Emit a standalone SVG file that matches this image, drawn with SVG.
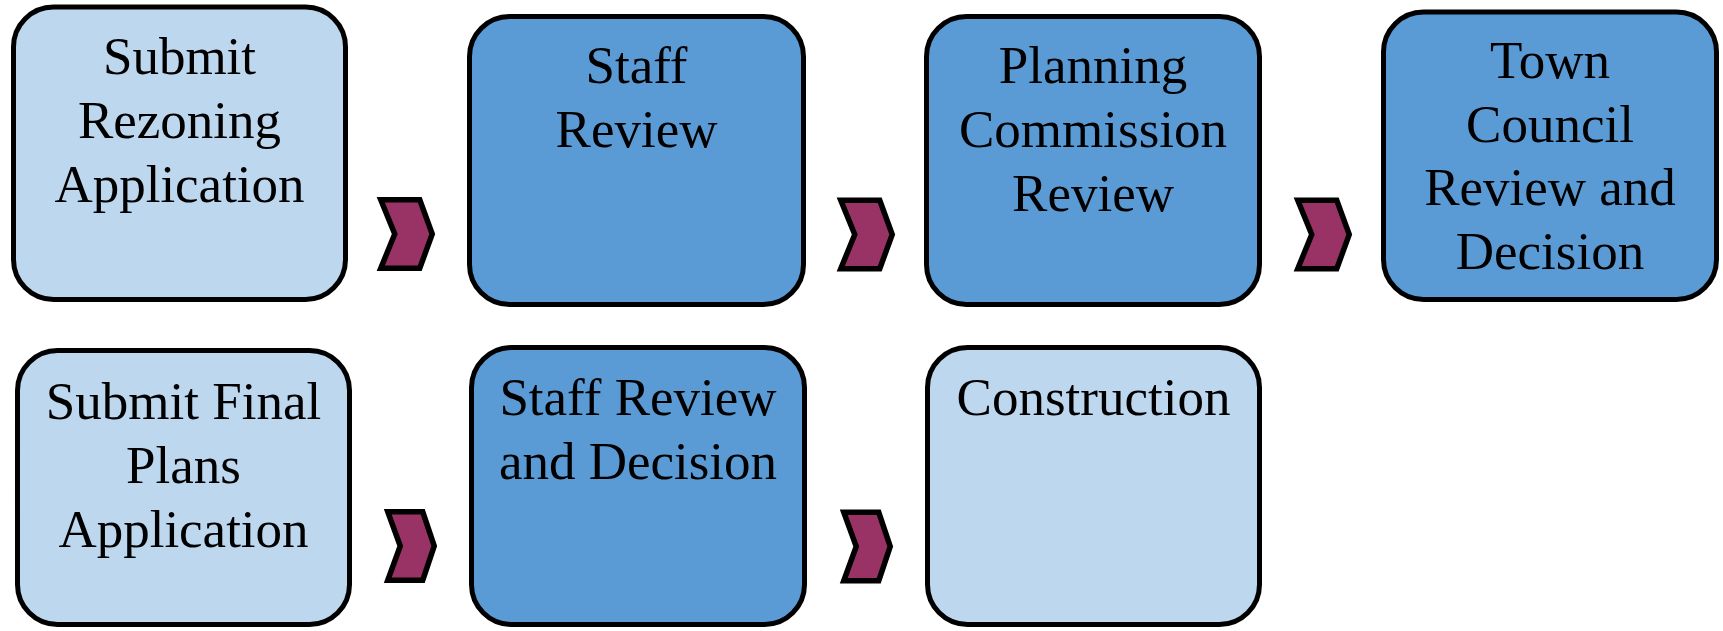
<svg xmlns="http://www.w3.org/2000/svg" width="1723" height="631" viewBox="0 0 1723 631">
  <style>
    .box { stroke: #000000; stroke-width: 5; }
    .light { fill: #BDD7EE; }
    .dark { fill: #5B9BD5; }
    .label { font-family: "Liberation Serif", "Times New Roman", serif; font-size: 53px; fill: #000000; text-anchor: middle; }
    .chev { fill: #993366; stroke: #000000; stroke-width: 5.5; stroke-linejoin: miter; }
  </style>
  <defs>
    <polygon id="chevron-top" points="0,0 39,0 51.5,34.25 39,68.5 0,68.5 14,34.25"/>
    <polygon id="chevron-bottom" points="0,0 35,0 46.5,34.25 35,68.5 0,68.5 12.5,34.25"/>
  </defs>
  <rect width="1723" height="631" fill="#FFFFFF"/>

  <!-- Rezoning track -->
  <g id="submit-rezoning">
    <rect class="box light" x="13.5" y="7" width="332" height="292.5" rx="40" ry="40"/>
    <text class="label" x="179.5" y="74">Submit</text>
    <text class="label" x="179.5" y="138">Rezoning</text>
    <text class="label" x="179.5" y="202">Application</text>
  </g>
  <g id="staff-review">
    <rect class="box dark" x="469.5" y="16.5" width="334" height="288" rx="40" ry="40"/>
    <text class="label" x="636.5" y="83">Staff</text>
    <text class="label" x="636.5" y="147">Review</text>
  </g>
  <g id="planning-commission-review">
    <rect class="box dark" x="926.5" y="16.5" width="333" height="288" rx="40" ry="40"/>
    <text class="label" x="1093" y="83">Planning</text>
    <text class="label" x="1093" y="147">Commission</text>
    <text class="label" x="1093" y="211">Review</text>
  </g>
  <g id="town-council-review">
    <rect class="box dark" x="1383.5" y="12" width="333" height="287.5" rx="40" ry="40"/>
    <text class="label" x="1550" y="78">Town</text>
    <text class="label" x="1550" y="142">Council</text>
    <text class="label" x="1550" y="205">Review and</text>
    <text class="label" x="1550" y="269">Decision</text>
  </g>

  <!-- Final plans track -->
  <g id="submit-final-plans">
    <rect class="box light" x="17.5" y="350.5" width="332" height="274" rx="40" ry="40"/>
    <text class="label" x="183.5" y="419">Submit Final</text>
    <text class="label" x="183.5" y="483">Plans</text>
    <text class="label" x="183.5" y="547">Application</text>
  </g>
  <g id="staff-review-decision">
    <rect class="box dark" x="471.5" y="347.5" width="333" height="277" rx="40" ry="40"/>
    <text class="label" x="638" y="415">Staff Review</text>
    <text class="label" x="638" y="479">and Decision</text>
  </g>
  <g id="construction">
    <rect class="box light" x="927.5" y="347.5" width="332" height="277" rx="40" ry="40"/>
    <text class="label" x="1093.5" y="415">Construction</text>
  </g>

  <!-- Step arrows -->
  <g id="connectors">
    <use href="#chevron-top" class="chev" x="380.75" y="199.75"/>
    <use href="#chevron-top" class="chev" x="840.75" y="200.25"/>
    <use href="#chevron-top" class="chev" x="1297.75" y="200.25"/>
    <use href="#chevron-bottom" class="chev" x="387.75" y="511.75"/>
    <use href="#chevron-bottom" class="chev" x="843.75" y="512.25"/>
  </g>
</svg>
